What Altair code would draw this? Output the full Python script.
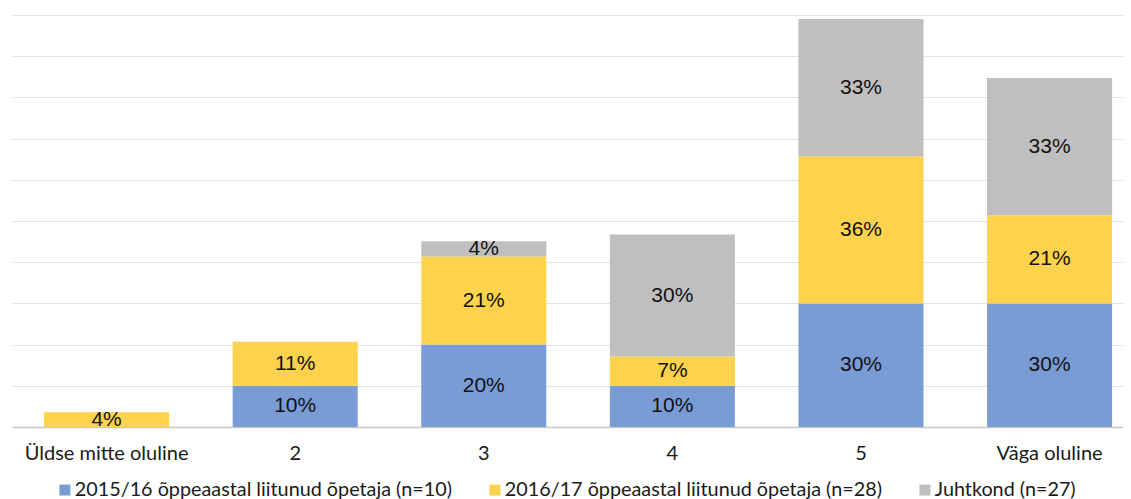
import altair as alt
import pandas as pd

categories = ["Üldse mitte oluline", "2", "3", "4", "5", "Väga oluline"]
series = [
    "2015/16 õppeaastal liitunud õpetaja (n=10)",
    "2016/17 õppeaastal liitunud õpetaja (n=28)",
    "Juhtkond (n=27)",
]
v2015 = [0, 10, 20, 10, 30, 30]
v2016 = [3.6, 10.7, 21.4, 7.1, 35.7, 21.4]
vjuht = [0, 0, 3.7, 29.6, 33.3, 33.3]
colors = ["#7A9CD5", "#FDD24C", "#BFBFBF"]

rows = []
for s_i, (s, vals) in enumerate(zip(series, [v2015, v2016, vjuht])):
    for c, v in zip(categories, vals):
        rows.append({"cat": c, "series": s, "ord": s_i, "value": v})
df = pd.DataFrame(rows)

LABEL_FONT = "Lato"

base = alt.Chart(df).transform_stack(
    stack="value", groupby=["cat"], as_=["y0", "y1"], sort=[alt.SortField("ord")]
).transform_calculate(
    mid="(datum.y0 + datum.y1) / 2",
    lab="round(datum.value) + '%'",
)

x_enc = alt.X(
    "cat:N",
    sort=categories,
    scale=alt.Scale(paddingInner=0.337, paddingOuter=0.114, align=0.746),
    axis=alt.Axis(
        title=None, labelAngle=0, ticks=False, domainColor="#C8C8C8", domainWidth=1.5,
        labelFontSize=20, labelFont=LABEL_FONT, labelColor="#1a1a1a", labelPadding=16,
        grid=False,
    ),
)

bars = base.mark_bar().encode(
    x=x_enc,
    y=alt.Y(
        "y0:Q",
        scale=alt.Scale(domain=[0, 100], nice=False),
        axis=alt.Axis(
            title=None, labels=False, ticks=False, domain=False,
            values=list(range(10, 101, 10)), grid=True, gridColor="#E2E2E2", gridWidth=1,
        ),
    ),
    y2="y1:Q",
    color=alt.Color(
        "series:N",
        sort=series,
        scale=alt.Scale(domain=series, range=colors),
        legend=alt.Legend(
            title=None, orient="none", legendX=43, legendY=465, direction="horizontal",
            symbolType="square", symbolSize=121, symbolStrokeWidth=0,
            labelFontSize=19.8, labelFont=LABEL_FONT, labelColor="#1a1a1a", labelLimit=0,
            columnPadding=33, labelOffset=0, padding=0,
        ),
    ),
    order=alt.Order("ord:Q"),
)

texts = base.transform_filter("datum.value > 0").mark_text(
    font="Liberation Sans", fontSize=21, color="#111111", baseline="middle"
).encode(
    x=alt.X("cat:N", sort=categories),
    y=alt.Y("mid:Q"),
    text="lab:N",
)

chart = alt.layer(bars, texts).properties(
    width=1111, height=412,
    padding={"left": 4, "top": 7, "right": 0, "bottom": 0},
).configure_view(stroke=None)

chart.save("out.html", embed_options={"renderer": "svg", "actions": False})
